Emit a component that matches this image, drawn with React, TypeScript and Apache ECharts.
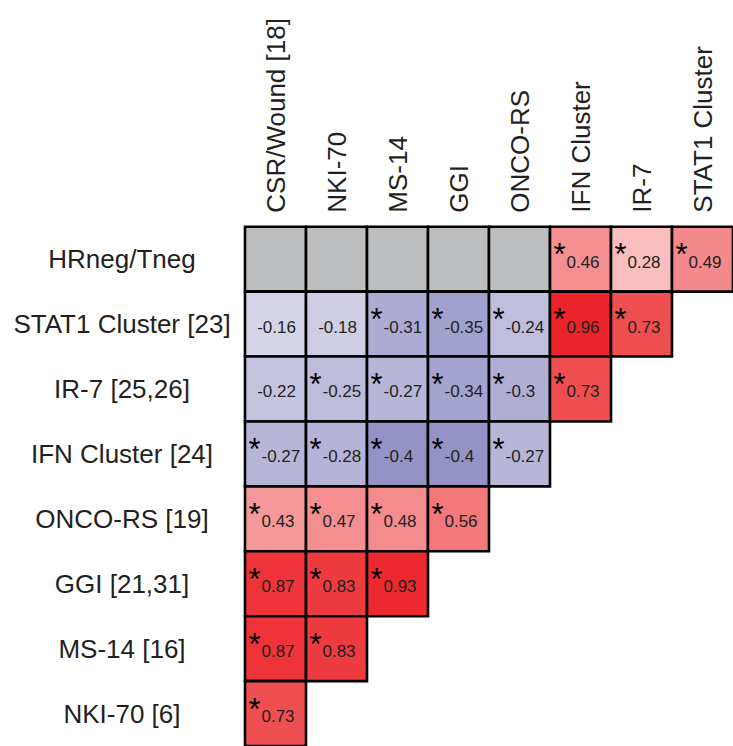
import React, { useEffect, useRef } from "react";
import * as echarts from "echarts";

const columns = [
  "CSR/Wound [18]",
  "NKI-70",
  "MS-14",
  "GGI",
  "ONCO-RS",
  "IFN Cluster",
  "IR-7",
  "STAT1 Cluster",
];

const rows = [
  "HRneg/Tneg",
  "STAT1 Cluster [23]",
  "IR-7 [25,26]",
  "IFN Cluster [24]",
  "ONCO-RS [19]",
  "GGI [21,31]",
  "MS-14 [16]",
  "NKI-70 [6]",
];

// null = not available (grey cell)
const values: (number | null)[][] = [
  [null, null, null, null, null, 0.46, 0.28, 0.49],
  [-0.16, -0.18, -0.31, -0.35, -0.24, 0.96, 0.73],
  [-0.22, -0.25, -0.27, -0.34, -0.3, 0.73],
  [-0.27, -0.28, -0.4, -0.4, -0.27],
  [0.43, 0.47, 0.48, 0.56],
  [0.87, 0.83, 0.93],
  [0.87, 0.83],
  [0.73],
];

const significant: boolean[][] = [
  [false, false, false, false, false, true, true, true],
  [false, false, true, true, true, true, true],
  [false, true, true, true, true, true],
  [true, true, true, true, true],
  [true, true, true, true],
  [true, true, true],
  [true, true],
  [true],
];

const FONT = '"Liberation Sans", Arial, Helvetica, sans-serif';
const TEXT = "#231f20";
const NUM_SIZE = 17;

function cellColor(v: number | null): string {
  if (v === null || isNaN(v)) return "#bcbec0";
  if (v < 0) {
    const t = Math.min(1, -v / 0.4);
    return echarts.color.lerp(t, ["#ffffff", "#9593c6"]) as string;
  }
  return echarts.color.lerp(Math.min(1, v), [
    "#ffffff",
    "#fbc6c7",
    "#f38688",
    "#ef4a4c",
    "#ec1c24",
  ]) as string;
}

function textWidth(s: string, size: number): number {
  let w = 0;
  for (const ch of s) {
    if (ch === "-") w += 0.333;
    else if (ch === ".") w += 0.278;
    else w += 0.556;
  }
  return w * size;
}

export default function App() {
  const ref = useRef<HTMLDivElement>(null);

  useEffect(() => {
    if (!ref.current) return;
    const chart = echarts.init(ref.current, null, { renderer: "svg" });

    const data: any[] = [];
    values.forEach((row, r) => {
      row.forEach((v, c) => {
        data.push({
          value: [c, r, v === null ? 0 : v, v === null ? 1 : 0, significant[r][c] ? 1 : 0],
        });
      });
    });

    const option: any = {
      animation: false,
      grid: { left: 245, top: 226.7, width: 491.2, height: 520 },
      xAxis: {
        type: "category",
        position: "top",
        data: columns,
        axisLine: { show: false },
        axisTick: { show: false },
        splitLine: { show: false },
        axisLabel: {
          rotate: -90,
          fontSize: 26,
          fontFamily: FONT,
          color: TEXT,
          margin: 14,
          interval: 0,
        },
      },
      yAxis: {
        type: "category",
        inverse: true,
        data: rows,
        axisLine: { show: false },
        axisTick: { show: false },
        splitLine: { show: false },
        axisLabel: {
          fontSize: 26,
          fontFamily: FONT,
          color: TEXT,
          align: "center",
          margin: 123,
          interval: 0,
        },
      },
      series: [
        {
          type: "custom",
          data,
          encode: { x: 0, y: 1 },
          renderItem: (params: any, api: any) => {
            const c = api.value(0);
            const r = api.value(1);
            const v = api.value(2);
            const na = api.value(3) === 1;
            const sig = api.value(4) === 1;
            const center = api.coord([c, r]);
            const size = api.size([1, 1]);
            const x = center[0] - size[0] / 2;
            const y = center[1] - size[1] / 2;
            const children: any[] = [
              {
                type: "rect",
                shape: { x, y, width: size[0], height: size[1] },
                style: {
                  fill: cellColor(na ? null : v),
                  stroke: "#000000",
                  lineWidth: 2.6,
                },
              },
            ];
            if (!na) {
              const label = String(v);
              const w = textWidth(label, NUM_SIZE);
              let tx = center[0] + 1;
              if (sig) tx = Math.max(tx, x + 16.5 + w / 2);
              children.push({
                type: "text",
                style: {
                  text: label,
                  x: tx,
                  y: center[1] + 3,
                  align: "center",
                  verticalAlign: "middle",
                  fontSize: NUM_SIZE,
                  fontFamily: FONT,
                  fill: TEXT,
                },
              });
            }
            if (sig) {
              children.push({
                type: "text",
                style: {
                  text: "*",
                  x: x + 9.5,
                  y: y + 28,
                  align: "center",
                  verticalAlign: "middle",
                  fontSize: 31,
                  fontFamily: FONT,
                  fill: "#000000",
                },
              });
            }
            return { type: "group", children };
          },
        },
      ],
    };

    chart.setOption(option);
    return () => chart.dispose();
  }, []);

  return (
    <div
      ref={ref}
      style={{ position: "absolute", left: 0, top: 0, width: 733, height: 746 }}
    />
  );
}
